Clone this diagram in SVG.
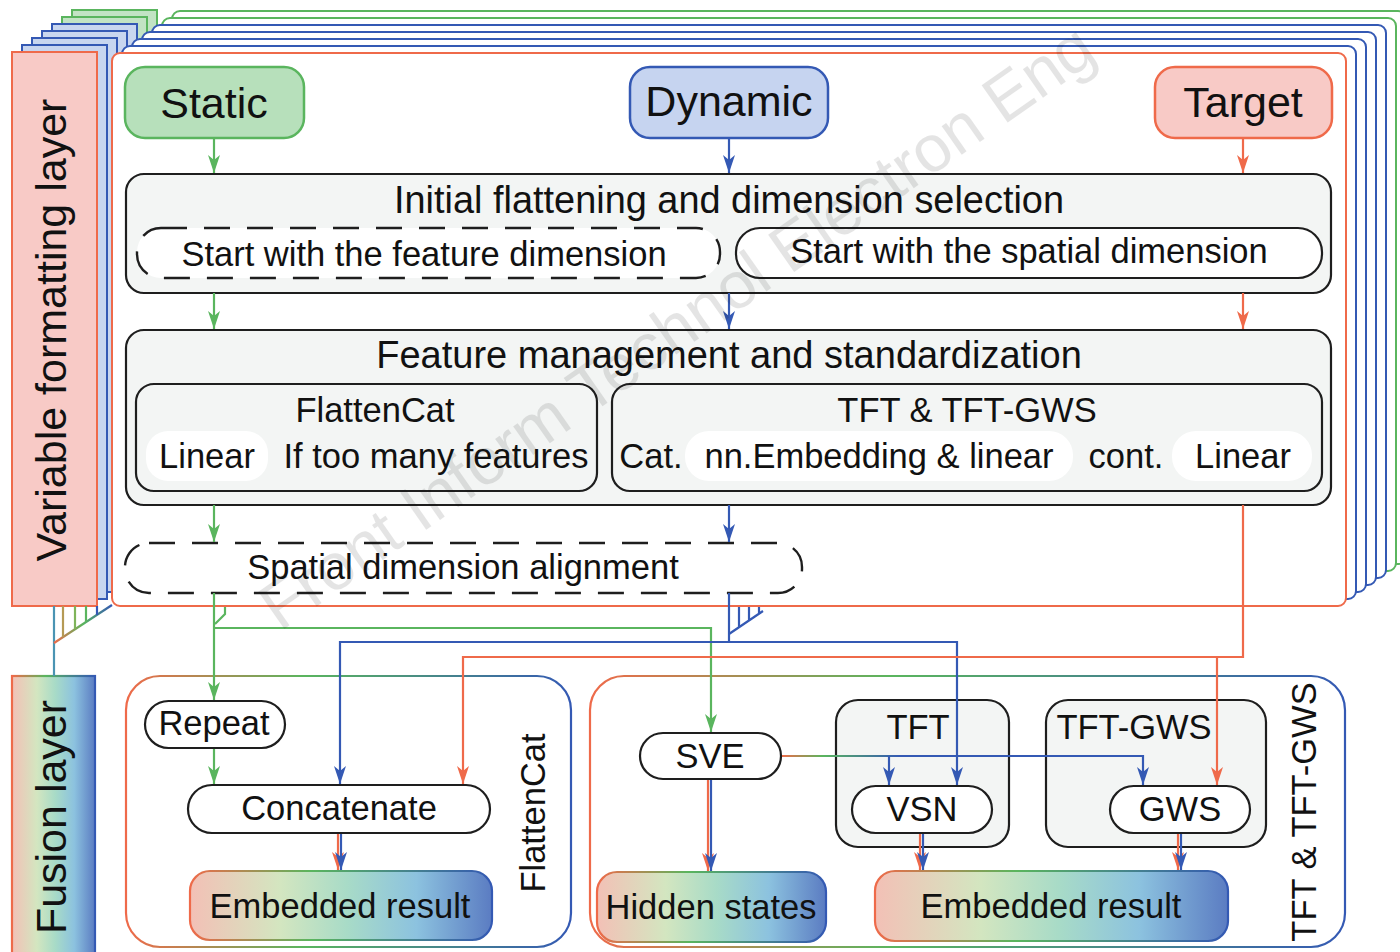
<svg xmlns="http://www.w3.org/2000/svg" width="1400" height="952" viewBox="0 0 1400 952">
<defs>
<style>
text{font-family:"Liberation Sans",Arial,sans-serif;fill:#111;}
.t34{font-size:34.5px;text-anchor:middle}
.t38{font-size:38px;text-anchor:middle}
.t43{font-size:43px;text-anchor:middle}
.gray{fill:#f3f5f4;stroke:#1e1e1e;stroke-width:2.2}
.pill{fill:#fff;stroke:#1e1e1e;stroke-width:2.2}
.wpill{fill:#fff;stroke:none}
.dash{fill:#fff;stroke:#1e1e1e;stroke-width:2.4;stroke-dasharray:26 17}
.ln{fill:none;stroke-width:2.2}
.g{stroke:#5ab55e}.b{stroke:#3459b4}.o{stroke:#ef6a4a}
.bkB{fill:#fff;stroke:#3459b4;stroke-width:2}
.bkG{fill:#fff;stroke:#5ab55e;stroke-width:2}
.lbB{fill:#c8d6ef;stroke:#3459b4;stroke-width:2}
.lbG{fill:#c2e3c4;stroke:#5ab55e;stroke-width:2}
.emb{fill:url(#embFill);stroke:url(#embStroke);stroke-width:2.2}
.cont{fill:none;stroke:url(#embStroke);stroke-width:2.2}
</style>
<linearGradient id="embFill" x1="0" y1="0" x2="1" y2="0">
<stop offset="0" stop-color="#f3c0b6"/><stop offset="0.3" stop-color="#d3e6c0"/><stop offset="0.52" stop-color="#a8dbc7"/><stop offset="0.75" stop-color="#8cc2df"/><stop offset="1" stop-color="#5b7cc2"/>
</linearGradient>
<linearGradient id="embStroke" x1="0" y1="0" x2="1" y2="0">
<stop offset="0" stop-color="#ef6a4a"/><stop offset="0.4" stop-color="#5ab55e"/><stop offset="1" stop-color="#3459b4"/>
</linearGradient>
<linearGradient id="sveLine" gradientUnits="userSpaceOnUse" x1="781" y1="0" x2="900" y2="0">
<stop offset="0" stop-color="#ef6a4a"/><stop offset="0.35" stop-color="#5ab55e"/><stop offset="1" stop-color="#3459b4"/>
</linearGradient>
<linearGradient id="diag" gradientUnits="userSpaceOnUse" x1="54" y1="0" x2="112" y2="0">
<stop offset="0" stop-color="#ef6a4a"/><stop offset="0.5" stop-color="#5ab55e"/><stop offset="1" stop-color="#3459b4"/>
</linearGradient>
<marker id="aG" viewBox="0 0 18 12" refX="18" refY="6" markerWidth="18" markerHeight="12" markerUnits="userSpaceOnUse" orient="auto"><path d="M0 0 L18 6 L0 12 L5 6 Z" fill="#5ab55e"/></marker>
<marker id="aB" viewBox="0 0 18 12" refX="18" refY="6" markerWidth="18" markerHeight="12" markerUnits="userSpaceOnUse" orient="auto"><path d="M0 0 L18 6 L0 12 L5 6 Z" fill="#3459b4"/></marker>
<marker id="aO" viewBox="0 0 18 12" refX="18" refY="6" markerWidth="18" markerHeight="12" markerUnits="userSpaceOnUse" orient="auto"><path d="M0 0 L18 6 L0 12 L5 6 Z" fill="#ef6a4a"/></marker>
</defs>
<rect width="1400" height="952" fill="#fff"/>

<g id="variable-formatting-stack">
<rect class="lbG" x="72" y="10" width="85" height="554"/>
<rect class="bkG" x="172" y="11" width="1234" height="553" rx="8"/>
<rect class="lbG" x="62" y="17" width="85" height="554"/>
<rect class="bkG" x="162" y="18" width="1234" height="553" rx="8"/>
<rect class="lbB" x="52" y="24" width="85" height="554"/>
<rect class="bkB" x="152" y="25" width="1234" height="553" rx="8"/>
<rect class="lbB" x="42" y="31" width="85" height="554"/>
<rect class="bkB" x="142" y="32" width="1234" height="553" rx="8"/>
<rect class="lbB" x="32" y="38" width="85" height="554"/>
<rect class="bkB" x="132" y="39" width="1234" height="553" rx="8"/>
<rect class="lbB" x="22" y="45" width="85" height="554"/>
<rect class="bkB" x="122" y="46" width="1234" height="553" rx="8"/>
</g>
<g id="variable-formatting-layer">
<rect x="12" y="52" width="85" height="554" fill="#f8cac6" stroke="#ef6a4a" stroke-width="2"/>
<text class="t43" font-size="44" transform="translate(66,330) rotate(-90)">Variable formatting layer</text>
</g>
<g id="main-panel">
<rect x="112" y="53" width="1234" height="553" rx="8" fill="#fff" stroke="#ef6a4a" stroke-width="2"/>
</g>

<g id="fusion-layer">
<rect x="12" y="676" width="83" height="280" fill="url(#embFill)" stroke="url(#embStroke)" stroke-width="2.2"/>
<text class="t43" transform="translate(66,817) rotate(-90)">Fusion layer</text>
</g>
<g id="flattencat-container">
<rect class="cont" x="126" y="676" width="445" height="271" rx="34"/>
<text class="t34" transform="translate(545,813) rotate(-90)">FlattenCat</text>
</g>
<g id="tft-container">
<rect class="cont" x="590" y="676" width="755" height="271" rx="34"/>
<text class="t34" transform="translate(1316,812) rotate(-90)">TFT &amp; TFT-GWS</text>
</g>

<g id="initial-flattening">
<rect class="gray" x="126" y="174" width="1205" height="119" rx="18"/>
<text class="t38" x="729" y="213" textLength="670" lengthAdjust="spacingAndGlyphs">Initial flattening and dimension selection</text>
<rect class="dash" x="137" y="228" width="583" height="50" rx="24"/>
<text class="t34" x="424" y="266">Start with the feature dimension</text>
<rect class="pill" x="736" y="228" width="586" height="50" rx="24"/>
<text class="t34" x="1029" y="263">Start with the spatial dimension</text>
</g>
<g id="feature-management">
<rect class="gray" x="126" y="330" width="1205" height="175" rx="18"/>
<text class="t38" x="729" y="368">Feature management and standardization</text>
<rect class="gray" x="136" y="384" width="461" height="107" rx="18"/>
<text class="t34" x="375" y="422">FlattenCat</text>
<rect class="wpill" x="146" y="431" width="122" height="50" rx="22"/>
<text class="t34" x="207" y="468">Linear</text>
<text class="t34" x="436" y="468">If too many features</text>
<rect class="gray" x="612" y="384" width="710" height="107" rx="18"/>
<text class="t34" x="967" y="422">TFT &amp; TFT-GWS</text>
<text class="t34" x="651" y="468">Cat.</text>
<rect class="wpill" x="685" y="431" width="388" height="50" rx="24"/>
<text class="t34" x="879" y="468">nn.Embedding &amp; linear</text>
<text class="t34" x="1126" y="468">cont.</text>
<rect class="wpill" x="1172" y="431" width="140" height="50" rx="24"/>
<text class="t34" x="1243" y="468">Linear</text>
</g>
<g id="spatial-alignment">
<rect class="dash" x="125" y="543" width="677" height="50" rx="24"/>
<text class="t34" x="463" y="579">Spatial dimension alignment</text>
</g>
<g id="tft">
<rect class="gray" x="836" y="700" width="173" height="147" rx="22"/>
<text class="t34" x="918" y="739">TFT</text>
</g>
<g id="tft-gws">
<rect class="gray" x="1046" y="700" width="220" height="147" rx="22"/>
<text class="t34" x="1134" y="739">TFT-GWS</text>
</g>

<g id="connectors">
<path class="ln g" d="M214 138 V173" marker-end="url(#aG)"/>
<path class="ln g" d="M214 293 V329" marker-end="url(#aG)"/>
<path class="ln g" d="M214 505 V542" marker-end="url(#aG)"/>
<path class="ln g" d="M214 593 V700" marker-end="url(#aG)"/>
<path class="ln g" d="M214 628 H711 V732" marker-end="url(#aG)"/>
<path class="ln g" d="M214 748 V784" marker-end="url(#aG)"/>
<path class="ln g" d="M225 607 V614 L215 624"/>
<path class="ln b" d="M729 138 V173" marker-end="url(#aB)"/>
<path class="ln b" d="M729 293 V329" marker-end="url(#aB)"/>
<path class="ln b" d="M729 505 V542" marker-end="url(#aB)"/>
<path class="ln b" d="M729 593 V642"/>
<path class="ln b" d="M729 642 H340 V784" marker-end="url(#aB)"/>
<path class="ln b" d="M729 642 H957 V785" marker-end="url(#aB)"/>
<path class="ln b" d="M739 607 V627.3 M749 607 V620.6 M759 607 V614 M729 634 L763 611"/>
<path class="ln o" d="M1243 138 V173" marker-end="url(#aO)"/>
<path class="ln o" d="M1243 293 V329" marker-end="url(#aO)"/>
<path class="ln o" d="M1243 505 V657 H463 V784" marker-end="url(#aO)"/>
<path class="ln o" d="M1217 657 V785" marker-end="url(#aO)"/>
<path class="ln" stroke="url(#sveLine)" d="M781 756 H1143 V785" marker-end="url(#aB)"/>
<path class="ln b" d="M889 756 V785" marker-end="url(#aB)"/>
<path class="ln o" stroke-width="2" d="M338 833 V870" marker-end="url(#aO)"/>
<path class="ln b" stroke-width="2" d="M341 833 V870" marker-end="url(#aB)"/>
<path class="ln o" stroke-width="2" d="M708 779 V871" marker-end="url(#aO)"/>
<path class="ln b" stroke-width="2" d="M711 779 V871" marker-end="url(#aB)"/>
<path class="ln o" stroke-width="2" d="M920 833 V870" marker-end="url(#aO)"/>
<path class="ln b" stroke-width="2" d="M923 833 V870" marker-end="url(#aB)"/>
<path class="ln o" stroke-width="2" d="M1178 833 V870" marker-end="url(#aO)"/>
<path class="ln b" stroke-width="2" d="M1181 833 V870" marker-end="url(#aB)"/>
<path class="ln" stroke="#4a94b3" d="M54 606 V676"/>
<path class="ln" stroke="url(#diag)" d="M54 643 L112 605"/>
<path class="ln" stroke="#b59a55" d="M63 606 V637"/>
<path class="ln" stroke="#7fb45a" d="M75 606 V629"/>
<path class="ln g" d="M86 606 V622"/>
<path class="ln b" d="M97 606 V615"/>
</g>

<g id="static">
<rect x="125" y="67" width="179" height="71" rx="20" fill="#b7e0bb" stroke="#5ab55e" stroke-width="2.5"/>
<text class="t43" x="214" y="118">Static</text>
</g>
<g id="dynamic">
<rect x="630" y="67" width="198" height="71" rx="20" fill="#c6d4f0" stroke="#3459b4" stroke-width="2.5"/>
<text class="t43" x="729" y="116">Dynamic</text>
</g>
<g id="target">
<rect x="1155" y="67" width="177" height="71" rx="20" fill="#f8cac6" stroke="#ef6a4a" stroke-width="2.5"/>
<text class="t43" x="1243" y="117">Target</text>
</g>
<g id="repeat">
<rect class="pill" x="145" y="701" width="140" height="47" rx="23.5"/>
<text class="t34" x="214" y="735">Repeat</text>
</g>
<g id="concatenate">
<rect class="pill" x="188" y="785" width="302" height="48" rx="24"/>
<text class="t34" x="339" y="820">Concatenate</text>
</g>
<g id="embedded-left">
<rect class="emb" x="190" y="871" width="302" height="69" rx="20"/>
<text class="t34" x="340" y="918">Embedded result</text>
</g>
<g id="sve">
<rect class="pill" x="640" y="733" width="141" height="46" rx="23"/>
<text class="t34" x="710" y="768">SVE</text>
</g>
<g id="hidden-states">
<rect class="emb" x="597" y="872" width="229" height="70" rx="20"/>
<text class="t34" x="711" y="919">Hidden states</text>
</g>
<g id="vsn">
<rect class="pill" x="852" y="786" width="140" height="47" rx="23.5"/>
<text class="t34" x="922" y="821">VSN</text>
</g>
<g id="gws">
<rect class="pill" x="1110" y="786" width="140" height="47" rx="23.5"/>
<text class="t34" x="1180" y="821">GWS</text>
</g>
<g id="embedded-right">
<rect class="emb" x="875" y="871" width="353" height="70" rx="20"/>
<text class="t34" x="1051" y="918">Embedded result</text>
</g>

<text x="280" y="632" font-size="66" fill="#000" opacity="0.11" transform="rotate(-35 280 632)">Front Inform Technol Electron Eng</text>
</svg>
